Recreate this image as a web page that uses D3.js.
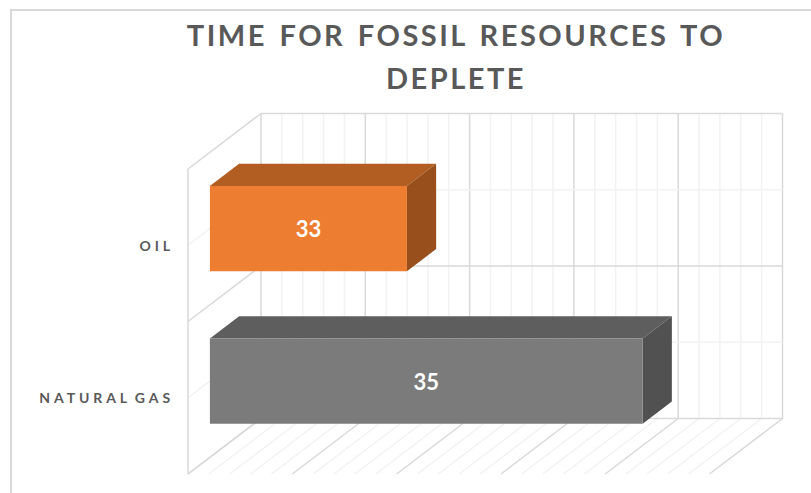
<!DOCTYPE html>
<html>
<head>
<meta charset="utf-8">
<script src="https://cdnjs.cloudflare.com/ajax/libs/d3/7.8.5/d3.min.js"></script>
<style>
  html, body { margin: 0; padding: 0; background: #fff; }
  svg { display: block; }
  text { font-family: Lato, "Open Sans", sans-serif; }
</style>
</head>
<body>
<svg id="chart" width="811" height="493"></svg>
<script>
// Chart content
const titleLines = ["TIME FOR FOSSIL RESOURCES TO", "DEPLETE"];
const categories = ["OIL", "NATURAL GAS"];
const seriesValues = [33, 35];
const barColors = [
  { front: "#ed7d31", top: "#b25e22", side: "#984f1c" },
  { front: "#7b7b7b", top: "#5e5e5e", side: "#515151" }
];
const axisDomain = [31.328, 35.753];
const majorDivisions = 5;
const minorPerMajor = 5;
const minorPerBand = 2;

// Box geometry: a sheared 3D frame, front plane plus a depth offset
const frontLeft = 188, plotWidth = 521.5;
const frontTop = 169, frontBottom = 474;
const depthDx = 73, depthDy = 55.5;
const barDepth = [0.3, 0.7];

const svg = d3.select("#chart");

const x = d3.scaleLinear().domain(axisDomain).range([frontLeft, frontLeft + plotWidth]);
const y = d3.scaleBand().domain(categories).range([frontTop, frontBottom])
  .paddingInner(0.441).paddingOuter(0.2205);
const yFrame = d3.scaleLinear().domain([0, categories.length]).range([frontTop, frontBottom]);

// Project a (screen x, screen y, depth) triple onto the page
const project = (px, py, d) => [px + d * depthDx, py - d * depthDy];
const line = pts => d3.line()(pts);

// Outer chart border, open on the right and bottom
svg.append("path")
  .attr("d", "M11 493V10H811")
  .attr("fill", "none").attr("stroke", "#d9d9d9").attr("stroke-width", 2);

// Gridlines on back wall, floor and left wall
const grid = svg.append("g").attr("fill", "none");
const gridMajor = "#d9d9d9", gridMinor = "#f2f2f2";

const nX = majorDivisions * minorPerMajor;
const xStep = (axisDomain[1] - axisDomain[0]) / nX;
const xGrid = d3.range(nX + 1).map(i => ({ v: axisDomain[0] + i * xStep, major: i % minorPerMajor === 0 }));

// minor lines are painted first so that the major ones sit on top
const sorted = xGrid.slice().sort((a, b) => a.major - b.major);
grid.selectAll("path.vert").data(sorted).join("path")
  .attr("class", "vert")
  .attr("d", t => line([
    project(x(t.v), frontTop, 1),
    project(x(t.v), frontBottom, 1),
    project(x(t.v), frontBottom, 0)
  ]))
  .attr("stroke", t => t.major ? gridMajor : gridMinor)
  .attr("stroke-width", 1.5);

const nY = categories.length * minorPerBand;
const yGrid = d3.range(nY + 1).map(i => ({ v: i / minorPerBand, major: i % minorPerBand === 0 }))
  .sort((a, b) => a.major - b.major);
grid.selectAll("path.horiz").data(yGrid).join("path")
  .attr("class", "horiz")
  .attr("d", t => line([
    project(frontLeft, yFrame(t.v), 0),
    project(frontLeft, yFrame(t.v), 1),
    project(frontLeft + plotWidth, yFrame(t.v), 1)
  ]))
  .attr("stroke", t => t.major ? gridMajor : gridMinor)
  .attr("stroke-width", 1.5);

// Front edge of the left wall
grid.append("path")
  .attr("d", line([[frontLeft, frontTop], [frontLeft, frontBottom]]))
  .attr("stroke", gridMajor).attr("stroke-width", 1.5);

// 3D bars: three visible faces each
const bars = svg.append("g").selectAll("g").data(categories).join("g");
const corners = (cat, i) => {
  const x0 = x(axisDomain[0]), x1 = x(seriesValues[i]);
  const y0 = y(cat), y1 = y(cat) + y.bandwidth();
  return { x0, x1, y0, y1 };
};
const face = (a, b, c, e) => line([a, b, c, e]) + "Z";

bars.append("path")
  .attr("fill", (c, i) => barColors[i].top)
  .attr("d", (c, i) => {
    const k = corners(c, i);
    return face(project(k.x0, k.y0, barDepth[0]), project(k.x1, k.y0, barDepth[0]),
                project(k.x1, k.y0, barDepth[1]), project(k.x0, k.y0, barDepth[1]));
  });
bars.append("path")
  .attr("fill", (c, i) => barColors[i].side)
  .attr("d", (c, i) => {
    const k = corners(c, i);
    return face(project(k.x1, k.y0, barDepth[0]), project(k.x1, k.y1, barDepth[0]),
                project(k.x1, k.y1, barDepth[1]), project(k.x1, k.y0, barDepth[1]));
  });
bars.append("path")
  .attr("fill", (c, i) => barColors[i].front)
  .attr("d", (c, i) => {
    const k = corners(c, i);
    return face(project(k.x0, k.y0, barDepth[0]), project(k.x1, k.y0, barDepth[0]),
                project(k.x1, k.y1, barDepth[0]), project(k.x0, k.y1, barDepth[0]));
  });

// Value labels centred on the front face
bars.append("text")
  .attr("text-anchor", "middle")
  .attr("font-size", 22).attr("font-weight", 700)
  .attr("fill", "#fff")
  .attr("x", (c, i) => {
    const k = corners(c, i);
    return (project(k.x0, 0, barDepth[0])[0] + project(k.x1, 0, barDepth[0])[0]) / 2;
  })
  .attr("y", (c, i) => {
    const k = corners(c, i);
    return project(0, (k.y0 + k.y1) / 2, barDepth[0])[1] + 8.5;
  })
  .text((c, i) => seriesValues[i]);

// Category axis
const axis = svg.append("g")
  .attr("transform", `translate(${frontLeft},1)`)
  .call(d3.axisLeft(y).tickSize(0).tickPadding(14));
axis.select(".domain").remove();
axis.selectAll("text")
  .attr("font-size", 14).attr("font-weight", 700)
  .attr("fill", "#595959").attr("letter-spacing", 3.9)
  .attr("word-spacing", -3)
  .style("font-family", "Lato, sans-serif");

// Two-line title
svg.append("g").selectAll("text").data(titleLines).join("text")
  .attr("x", 456)
  .attr("y", (d, i) => 46 + i * 43)
  .attr("text-anchor", "middle")
  .attr("font-size", 29).attr("font-weight", 700)
  .attr("fill", "#595959").attr("letter-spacing", 2.5)
  .attr("word-spacing", 3)
  .text(d => d);
</script>
</body>
</html>
